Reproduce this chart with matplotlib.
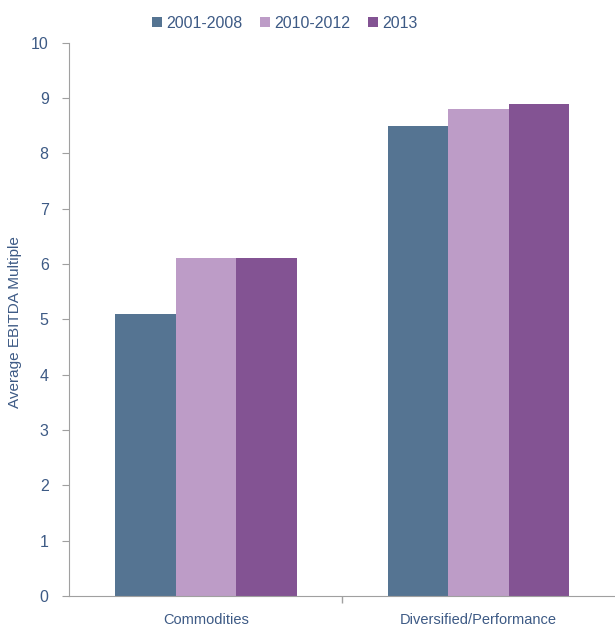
import matplotlib
matplotlib.use("Agg")
import matplotlib.pyplot as plt
import numpy as np

categories = ["Commodities", "Diversified/Performance"]
series = ["2001-2008", "2010-2012", "2013"]
v_2001_2008 = [5.1, 8.5]
v_2010_2012 = [6.1, 8.8]
v_2013 = [6.1, 8.9]
colors = ["#557492", "#bd9cc7", "#835393"]

plt.rcParams['font.family'] = ['Liberation Sans Narrow', 'Liberation Sans', 'DejaVu Sans']
txt = "#3d5a85"
axc = "#a0a0a0"

fig = plt.figure(figsize=(6.15, 6.28), dpi=100)
ax = fig.add_axes([0.113, 0.051, 0.887, 0.881])

x = np.arange(len(categories)) + 0.5
w = 0.222
for i, (name, vals) in enumerate(zip(series, [v_2001_2008, v_2010_2012, v_2013])):
    ax.bar(x + (i - 1) * w, vals, w, color=colors[i], label=name)

ax.set_xlim(0, 2)
ax.set_ylim(0, 10)
ax.set_yticks(range(0, 11))
ax.set_xticks(x)
ax.set_xticklabels(categories, fontsize=10.5, color=txt)
ax.set_xticks([1], minor=True)
ax.tick_params(axis='x', which='major', length=0, pad=12)
ax.tick_params(axis='x', which='minor', length=5, color=axc, width=1)
ax.tick_params(axis='y', length=5, color=axc, labelsize=11.5, labelcolor=txt, pad=10)

for s in ["top", "right"]:
    ax.spines[s].set_visible(False)
for s in ["left", "bottom"]:
    ax.spines[s].set_color(axc)

# y label placed by hand so it sits just inside the left edge
fig.text(15 / 615, 1 - 322 / 628, "Average EBITDA Multiple", rotation=90,
         ha="center", va="center", fontsize=11, color=txt)

ax.legend(loc="upper center", bbox_to_anchor=(0.395, 1.075), ncol=3, frameon=False,
          fontsize=11.5, handlelength=0.6, handleheight=0.6, handletextpad=0.3,
          columnspacing=1.1, labelcolor=txt)

fig.savefig("out.png", dpi=100)
